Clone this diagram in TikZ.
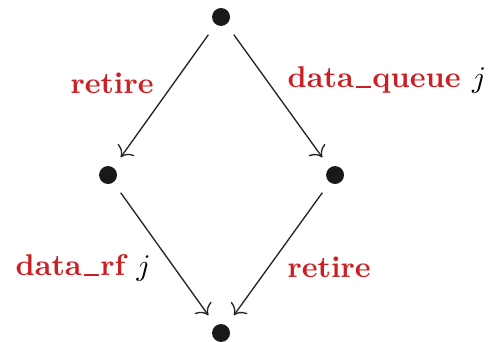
\documentclass[tikz,border=0pt]{standalone}
\usepackage{amsmath}
\usepackage{xcolor}
\usetikzlibrary{calc,arrows.meta}
\definecolor{labelred}{rgb}{0.8,0.12,0.14}
\newcommand{\usc}{\kern.06em\vbox{\hrule height 0.8pt width 5pt}\kern.06em}
\tikzset{
  state/.style={circle,fill=black!90,inner sep=0pt,minimum size=0.21cm,outer sep=0.15cm},
  trans/.style={-{To[scale=1.25]},draw=black!85,line width=0.45pt},
  lbl/.style={inner sep=0pt,font=\bfseries,text=labelred}
}

\begin{document}
\begin{tikzpicture}
      \useasboundingbox (0,0) rectangle (5.753,3.996);
      % States
      \node[state] (top) at (2.590,3.797) {};
      \node[state] (left) at (1.266,1.945) {};
      \node[state] (right) at (3.926,1.945) {};
      \node[state] (bot) at (2.590,0.094) {};
      % Transitions
      \draw[trans] (top) -- (left);
      \draw[trans] (top) -- (right);
      \draw[trans] (left) -- (bot);
      \draw[trans] (right) -- (bot);
      % Labels
      \node[lbl,anchor=base] (retireA) at (1.313,2.906) {retire};
      \node[lbl,anchor=base west] (dqueue) at (3.364,2.965) {data\usc queue \textcolor{black}{$j$}};
      \node[lbl,anchor=base west] (drf) at (0.176,0.762) {data\usc rf \textcolor{black}{$j$}};
      \node[lbl,anchor=base west] (retireB) at (3.364,0.750) {retire};
\end{tikzpicture}
\end{document}
